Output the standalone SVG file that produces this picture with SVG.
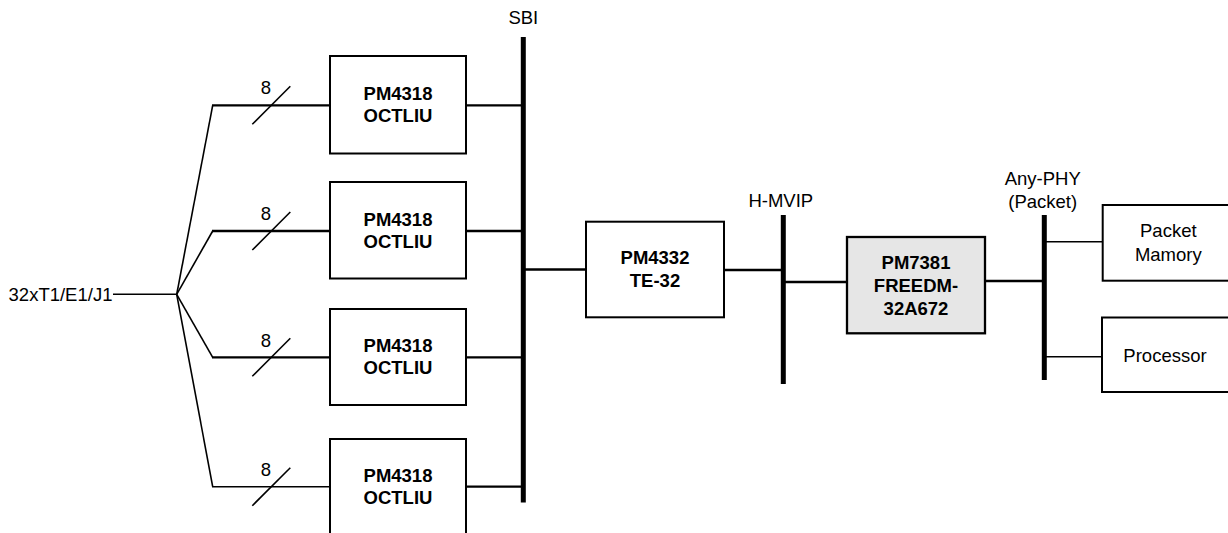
<svg xmlns="http://www.w3.org/2000/svg" width="1228" height="533" viewBox="0 0 1228 533">
<style>
.box{fill:#fff;stroke:#000;stroke-width:2}
.grey{fill:#e6e6e6;stroke:#000;stroke-width:2.3}
.t{font-family:"Liberation Sans",Arial,sans-serif;font-size:18.5px;fill:#000;text-anchor:middle}
.b{font-weight:bold}
.w{fill:none;stroke:#000;stroke-width:2.3}
.thin{fill:none;stroke:#000;stroke-width:1.6}
.bus{fill:none;stroke:#000;stroke-width:5}
</style>
<g id="connectors">
<line class="thin" x1="113" y1="294.3" x2="176.7" y2="294.3"/>
<polyline class="thin" points="176.7,294.3 212.7,105.3"/>
<polyline class="thin" points="176.7,294.3 212.7,231"/>
<polyline class="thin" points="176.7,294.3 212.7,357.3"/>
<polyline class="thin" points="176.7,294.3 212.7,486.7"/>
<line class="w" x1="212" y1="105.3" x2="330" y2="105.3"/>
<line class="w" x1="212" y1="231" x2="330" y2="231"/>
<line class="w" x1="212" y1="357.3" x2="330" y2="357.3"/>
<line class="thin" x1="212" y1="486.7" x2="330" y2="486.7"/>
<line class="thin" x1="252.3" y1="124.3" x2="290.3" y2="86.3"/>
<line class="thin" x1="252.3" y1="250" x2="290.3" y2="212"/>
<line class="thin" x1="252.3" y1="376.3" x2="290.3" y2="338.3"/>
<line class="thin" x1="252.3" y1="505.7" x2="290.3" y2="467.7"/>
<text class="t" x="266" y="94">8</text>
<text class="t" x="266" y="220">8</text>
<text class="t" x="266" y="346.5">8</text>
<text class="t" x="266" y="475.5">8</text>
<line class="w" x1="466" y1="105.3" x2="523" y2="105.3"/>
<line class="w" x1="466" y1="231" x2="523" y2="231"/>
<line class="w" x1="466" y1="357.3" x2="523" y2="357.3"/>
<line class="w" x1="466" y1="486.7" x2="523" y2="486.7"/>
<line class="bus" x1="523.3" y1="37" x2="523.3" y2="502.5"/>
<line class="w" x1="523" y1="269.5" x2="586" y2="269.5"/>
<line class="w" x1="724" y1="270" x2="783" y2="270"/>
<line class="bus" x1="783.3" y1="215" x2="783.3" y2="384"/>
<line class="w" x1="783" y1="282" x2="847" y2="282"/>
<line class="w" x1="985" y1="281" x2="1044" y2="281"/>
<line class="bus" x1="1044.3" y1="215" x2="1044.3" y2="380"/>
<line class="thin" x1="1044" y1="241.7" x2="1102.7" y2="241.7"/>
<line class="thin" x1="1044" y1="356.7" x2="1102.7" y2="356.7"/>
</g>
<g id="labels">
<text class="t" x="523.3" y="24">SBI</text>
<text class="t" x="780.8" y="206.7">H-MVIP</text>
<text class="t" x="1042.7" y="184.5">Any-PHY</text>
<text class="t" x="1042.7" y="207.5">(Packet)</text>
<text class="t" x="60.5" y="301" style="text-anchor:middle">32xT1/E1/J1</text>
</g>
<g id="oct1">
<rect class="box" x="330" y="56" width="136" height="97.5"/>
<text class="t b" x="398" y="99.5">PM4318</text>
<text class="t b" x="398" y="122">OCTLIU</text>
</g>
<g id="oct2">
<rect class="box" x="330" y="182" width="136" height="96.5"/>
<text class="t b" x="398" y="225.5">PM4318</text>
<text class="t b" x="398" y="248">OCTLIU</text>
</g>
<g id="oct3">
<rect class="box" x="330" y="309" width="136" height="96"/>
<text class="t b" x="398" y="351.7">PM4318</text>
<text class="t b" x="398" y="374">OCTLIU</text>
</g>
<g id="oct4">
<rect class="box" x="330" y="439" width="136" height="98"/>
<text class="t b" x="398" y="481.7">PM4318</text>
<text class="t b" x="398" y="504">OCTLIU</text>
</g>
<g id="te32">
<rect class="box" x="586" y="221.7" width="138" height="95.6"/>
<text class="t b" x="655" y="264.3">PM4332</text>
<text class="t b" x="655" y="287.3">TE-32</text>
</g>
<g id="freedm">
<rect class="grey" x="847" y="237" width="138" height="96.3"/>
<text class="t b" x="916" y="269.3">PM7381</text>
<text class="t b" x="916" y="291.7">FREEDM-</text>
<text class="t b" x="916" y="315">32A672</text>
</g>
<g id="pktmem">
<rect class="box" x="1102.7" y="205" width="140" height="75.7"/>
<text class="t" x="1168.3" y="237.3">Packet</text>
<text class="t" x="1168.3" y="260.7">Mamory</text>
</g>
<g id="processor">
<rect class="box" x="1102" y="317.5" width="140" height="74.5"/>
<text class="t" x="1165" y="361.7">Processor</text>
</g>
</svg>
